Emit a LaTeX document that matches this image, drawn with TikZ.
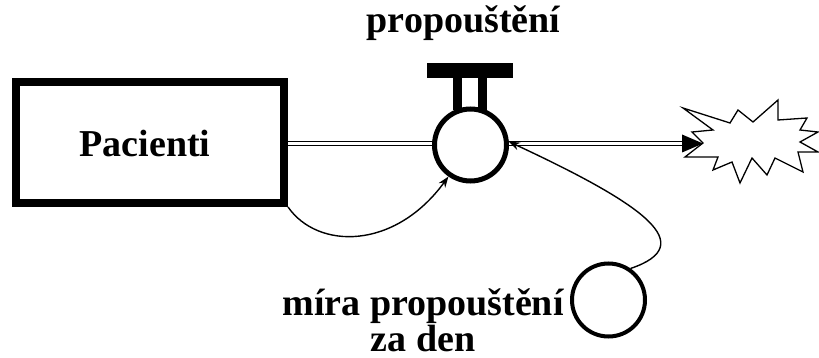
\documentclass[tikz,border=0pt]{standalone}
\usepackage{fontspec}
\setmainfont{Liberation Serif}
\usetikzlibrary{arrows.meta}
\tikzset{
  lbl/.style={font=\fontsize{38pt}{32pt}\selectfont\bfseries, inner sep=0pt},
  stockbox/.style={draw, line width=8pt, minimum width=268pt, minimum height=121pt, inner sep=0pt},
  valve/.style={circle, draw, line width=5pt, minimum size=72pt, inner sep=0pt},
  aux/.style={circle, draw, line width=4pt, minimum size=73pt, inner sep=0pt},
  pipe/.style={draw, double, line width=1.8pt, double distance=2.2pt},
  link/.style={line width=1.4pt, -{Stealth[length=11pt,width=8pt]}},
  cloudline/.style={line width=1.3pt, line join=miter}
}
\begin{document}
\begin{tikzpicture}[x=1pt,y=-1pt]
\useasboundingbox (0,0) rectangle (819,358);
% nodes
\node[stockbox] (stock) at (150,142.5) {};
\node[lbl, anchor=base] (stocklbl) at (145,157) {Pacienti};
\node[valve] (valve) at (470.5,145) {};
\node[lbl, anchor=base] (valvelbl) at (463.5,33) {propouštění};
\node[aux] (rate) at (608.5,300) {};
\node[lbl, anchor=base, align=center] (ratelbl) at (423,351) {míra propouštění\\za den};
\coordinate (sink) at (703,143.5);
% valve handle
\fill (427,63) rectangle (513,78);
\fill (453,78) rectangle (462,110);
\fill (478,78) rectangle (487,110);
% pipes
\draw[pipe] (stock.east |- 0,143.5) -- (valve.west |- 0,143.5);
\draw[pipe, shorten >=19pt] (valve.east |- 0,143.5) -- (sink);
\fill (sink) -- ++(-21,-9) -- ++(0,18) -- cycle;
% cloud
\draw[cloudline] (683,108) -- (730,123) -- (738,110) -- (753,122) -- (778,100) -- (778,120)
  -- (807,118) -- (800,130) -- (818,132) -- (800,142) -- (818,152) -- (798,152)
  -- (803,172) -- (775,158) -- (767,175) -- (752,158) -- (740,183) -- (732,162)
  -- (713,170) -- (718,157) -- (685,157) -- (703,143) -- (692,132) -- (713,130) -- cycle;
% connectors
\draw[link] (stock.south east) .. controls (318,250) and (395,250) .. (valve.-125);
\draw[link] (rate.55) .. controls (700,245) and (645,205) .. (valve.5);
\end{tikzpicture}
\end{document}
